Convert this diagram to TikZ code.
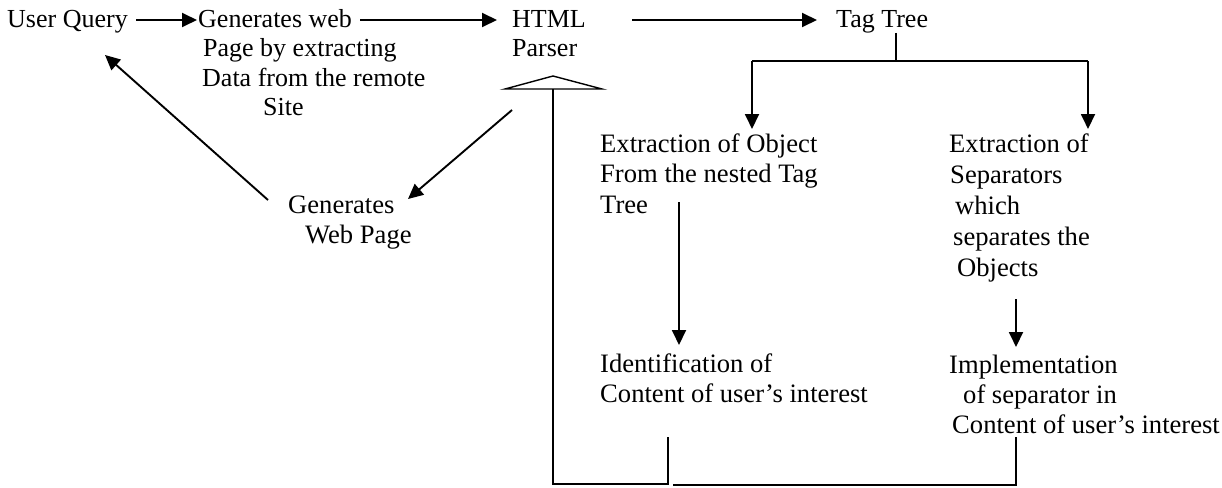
\documentclass[tikz,border=0pt]{standalone}
\usepackage{fontspec}
\setmainfont{Liberation Serif}
\usetikzlibrary{arrows.meta}
\newcommand\bodyfont{\fontsize{26.6}{30}\selectfont}
\newcommand\topfont{\fontsize{26}{29.5}\selectfont}

\begin{document}
\begin{tikzpicture}[x=1pt,y=-1pt,
  txt/.style={anchor=north west, inner sep=0pt, align=left, font=\bodyfont},
  toptxt/.style={txt, font=\topfont},
  link/.style={line width=1.9pt},
  arr/.style={link, -{Triangle[length=15pt,width=14pt]}},
  thin link/.style={line width=1.4pt}]
\useasboundingbox (0,0) rectangle (1222,487);

% text blocks (the first baseline sits .7 of the line spacing below the node's top)
\node[toptxt] (uq)   at (7,6.35)   {\strut User Query};
\node[toptxt] (gw)   at (198,6.35) {\strut Generates web\\
  \hspace*{5pt}\strut Page by extracting\\
  \hspace*{4pt}\strut Data from the remote\\
  \hspace*{65pt}\strut Site};
\node[toptxt] (html) at (512,6.35) {\strut HTML\\\strut Parser};
\node[toptxt] (tag)  at (836,6.35) {\strut Tag Tree};
\node[txt] (gwp)   at (288,192) {\strut Generates\\\hspace*{17pt}\strut Web Page};
\node[txt,font=\fontsize{26.6}{30.5}\selectfont] (eobj) at (600,130.65) {\strut Extraction of Object\\
  \strut From the nested Tag\\\strut Tree};
\node[txt,font=\fontsize{26.6}{31}\selectfont] (esep) at (949,130.3) {\strut Extraction of\\
  \hspace*{1pt}\strut Separators\\
  \hspace*{6pt}\strut which\\
  \hspace*{4pt}\strut separates the\\
  \hspace*{8pt}\strut Objects};
\node[txt] (ident) at (600,351) {\strut Identification of\\
  \strut Content of user’s interest};
\node[txt] (impl)  at (949,352) {\strut Implementation\\
  \hspace*{14pt}\strut of separator in\\
  \hspace*{3pt}\strut Content of user’s interest};

% connector end points
\coordinate (uqOut)   at (136,20);
\coordinate (gwIn)    at (197,20);
\coordinate (gwOut)   at (360,20);
\coordinate (htmlIn)  at (497,20);
\coordinate (htmlOut) at (632,20);
\coordinate (tagIn)   at (817,20);
\coordinate (tagStem) at (896,33);
\coordinate (tagFork) at (896,61);
\coordinate (forkL)   at (752,61);
\coordinate (forkR)   at (1088,61);
\coordinate (eobjIn)  at (752,129);
\coordinate (esepIn)  at (1088,129);
\coordinate (eobjOut) at (679,202);
\coordinate (identIn) at (679,345);
\coordinate (esepOut) at (1016,299);
\coordinate (implIn)  at (1016,347);
\coordinate (htmlDn)  at (512,110);
\coordinate (gwpIn)   at (408,199);
\coordinate (gwpOut)  at (268,200);
\coordinate (uqIn)    at (105,55);
\coordinate (triApex) at (553,76);
\coordinate (triL)    at (505,89);
\coordinate (triR)    at (602,89);
\coordinate (triFoot) at (553,89);
\coordinate (identOut) at (668,437);
\coordinate (implOut)  at (1016,437);

% main flow
\draw[arr] (uqOut) -- (gwIn);
\draw[arr] (gwOut) -- (htmlIn);
\draw[arr] (htmlOut) -- (tagIn);

% tag tree fork
\draw[thin link] (tagStem) -- (tagFork);
\draw[link] (forkL) -- (forkR);
\draw[arr] (forkL) -- (eobjIn);
\draw[arr] (forkR) -- (esepIn);

% column arrows
\draw[arr] (eobjOut) -- (identIn);
\draw[arr] (esepOut) -- (implIn);

% return path to the user
\draw[arr] (htmlDn) -- (gwpIn);
\draw[arr] (gwpOut) -- (uqIn);

% feedback into the parser
\draw[thin link] (triL) -- (triApex) -- (triR) -- cycle;
\draw[link] (identOut) -- (668,484) -- (553,484) -- (triFoot);
\draw[link] (implOut) -- (1016,485) -- (673,485);
\end{tikzpicture}
\end{document}
